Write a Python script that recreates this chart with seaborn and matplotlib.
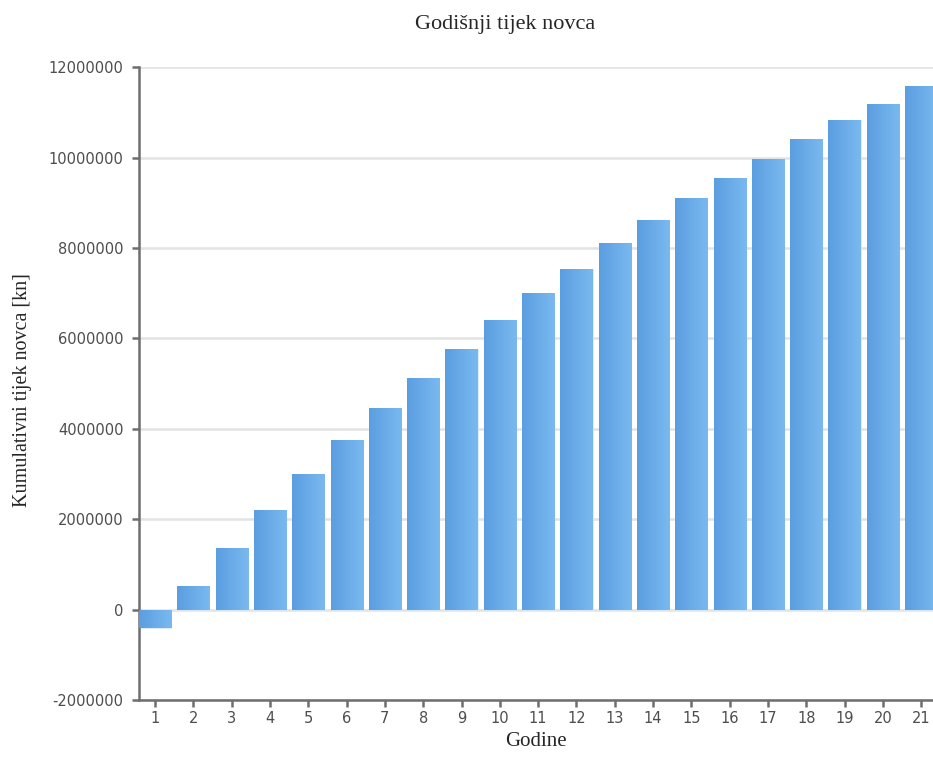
import numpy as np
import pandas as pd
import seaborn as sns
import matplotlib.pyplot as plt
from matplotlib.colors import LinearSegmentedColormap

# Data
godine = [str(g) for g in range(1, 22)]
tijek = [-400000, 530000, 1370000, 2210000, 3000000, 3760000, 4460000,
         5130000, 5770000, 6410000, 7000000, 7540000, 8110000, 8620000,
         9100000, 9550000, 9970000, 10410000, 10830000, 11180000, 11580000]
y_ticks = [-2000000, 0, 2000000, 4000000, 6000000, 8000000, 10000000, 12000000]

data = pd.DataFrame({'godina': godine, 'tijek': tijek})

sns.set_style("white")
plt.rcParams['font.family'] = ['DejaVu Sans']

fig = plt.figure(figsize=(9.33, 7.57), dpi=100)
ax = fig.add_axes([0.149, 0.0753, 0.851, 0.836])

sns.barplot(data=data, x='godina', y='tijek', order=godine, width=0.84,
            color='#6aaae8', saturation=1, ax=ax, zorder=2)

# horizontal gradient on every bar (darker left, lighter right)
grad = LinearSegmentedColormap.from_list('bar', ['#5b9ee0', '#7ab9f0'])
g = np.linspace(0, 1, 64).reshape(1, -1)
for p in ax.patches:
    x0, y0 = p.get_x(), p.get_y()
    w, h = p.get_width(), p.get_height()
    img = ax.imshow(g, cmap=grad, aspect='auto', zorder=3,
                    extent=[x0, x0 + w, y0, y0 + h], interpolation='bilinear')
    img.set_clip_path(p)
    p.set_facecolor('none')
    p.set_edgecolor('#d8e9f8')
    p.set_linewidth(0.6)

ax.set_xlim(-0.42, 20.31)
ax.set_ylim(-2000000, 12000000)
ax.set_yticks(y_ticks)
ax.set_yticklabels([str(v) for v in y_ticks])

ax.grid(axis='y', color='#e3e3e3', linewidth=1.8, zorder=0)
ax.set_axisbelow(True)

for side in ['top', 'right']:
    ax.spines[side].set_visible(False)
for side in ['left', 'bottom']:
    ax.spines[side].set_color('#6e6e6e')
    ax.spines[side].set_linewidth(1.8)

ax.tick_params(axis='both', which='both', direction='out', length=5,
               width=1.8, color='#6e6e6e', labelcolor='#4d4d4d',
               labelsize=10.5, left=True, bottom=True)
ax.tick_params(axis='y', pad=6)
ax.tick_params(axis='x', pad=3)

serif = ['Liberation Serif', 'DejaVu Serif']
fig.text(505 / 933, 1 - 24 / 757, "Godišnji tijek novca", family=serif,
         fontsize=16, ha='center', va='center')
ax.set_xlabel("Godine", family=serif, fontsize=15, labelpad=4)
ax.set_ylabel("Kumulativni tijek novca [kn]", family=serif, fontsize=14.5,
              labelpad=10)
ax.yaxis.set_label_coords(-(139 - 32) / (0.851 * 933), 0.49)

plt.savefig("out.png", dpi=100)
